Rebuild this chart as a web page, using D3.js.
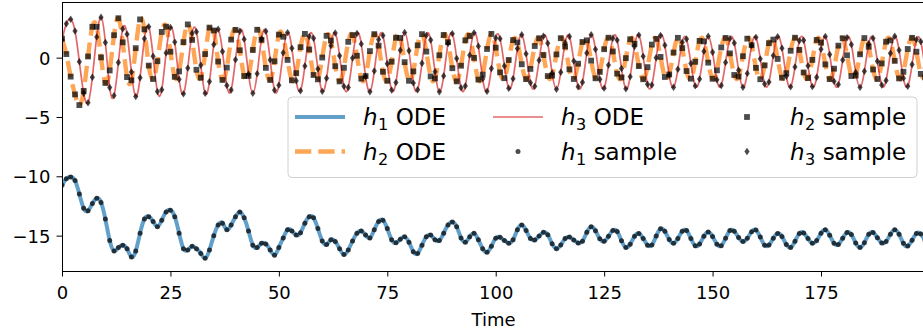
<!DOCTYPE html>
<html>
<head>
<meta charset="utf-8">
<script src="https://cdn.jsdelivr.net/npm/d3@7"></script>
<style>
  body { margin: 0; background: #fff; }
  svg { display: block; }
  text { font-family: "DejaVu Sans", sans-serif; }
</style>
</head>
<body>
<svg id="chart" width="923" height="336"></svg>
<script>
// Sample times (one sample per time unit)
const time = d3.range(200);

// h1: slow drifting state
const h1 = [
  -10.75, -10.2, -10.05, -10.35, -11.5, -12.7, -12.9, -12.3, -11.85, -12.2,
  -13.6, -15.4, -16.3, -16.0, -15.8, -16.1, -16.8, -16.3, -14.8, -13.6,
  -13.4, -13.8, -14.25, -13.7, -13.0, -12.85, -13.4, -14.8, -16.1, -16.2,
  -15.9, -16.1, -16.5, -16.9, -16.2, -15.0, -14.1, -13.95, -14.5, -14.1,
  -13.4, -13.0, -13.5, -14.6, -15.8, -16.0, -15.65, -15.7, -16.2, -16.65,
  -16.0, -15.2, -14.5, -14.6, -14.95, -14.75, -13.95, -13.4, -13.5, -14.4,
  -15.45, -15.75, -15.35, -15.5, -16.1, -16.6, -16.2, -15.45, -14.8, -14.6,
  -14.95, -15.2, -14.5, -13.8, -13.7, -14.4, -15.35, -15.6, -15.3, -15.1,
  -15.55, -16.35, -16.5, -15.8, -15.1, -14.95, -15.35, -15.4, -14.8, -14.1,
  -13.85, -14.25, -15.2, -15.55, -15.1, -14.8, -15.35, -16.1, -16.4,
  -15.89, -15.22, -15.14, -15.42, -15.64, -15.35, -14.50, -14.10, -14.56, -15.25,
  -15.36, -15.03, -14.72, -14.92, -15.68, -16.10, -15.79, -15.25, -15.12, -15.37,
  -15.62, -15.47, -14.72, -14.25, -14.59, -15.27, -15.48, -15.06, -14.57, -14.65,
  -15.43, -15.99, -15.72, -15.06, -14.81, -15.24, -15.80, -15.79, -15.04, -14.42,
  -14.64, -15.33, -15.64, -15.24, -14.63, -14.57, -15.24, -15.86, -15.71, -15.05,
  -14.70, -15.07, -15.72, -15.85, -15.22, -14.56, -14.63, -15.16, -15.50, -15.23,
  -14.68, -14.53, -15.12, -15.81, -15.79, -15.22, -14.81, -15.08, -15.74, -15.99,
  -15.48, -14.82, -14.77, -15.25, -15.64, -15.42, -14.79, -14.50, -14.96, -15.65,
  -15.74, -15.21, -14.73, -14.91, -15.62, -16.00, -15.59, -14.89, -14.73, -15.17,
  -15.61, -15.50, -14.88, -14.50, -14.88, -15.65, -15.87, -15.39, -14.82, -14.86, -15.41
];

// h2: fast oscillator, leads h3
const h2 = [
  1.6, 0.3, -1.6, -3.1, -4.0, -2.8, 0.1, 2.6, 2.6,
  0.02, -2.13, -1.08, 1.89,
  3.32, 1.29, -1.64, -1.91, 0.80, 3.22, 2.39, -0.67,
  -1.80, -0.30, 2.17, 2.61, 0.50, -1.62, -1.16, 1.31, 2.80, 1.49, -1.02, -1.69, 0.30, 2.53, 2.29,
  -0.33, -1.88, -0.84, 1.52, 2.34, 0.62, -1.55, -1.54, 0.65, 2.35, 1.50, -0.86, -1.88, -0.31, 1.94,
  1.76, -0.19, -1.91, -1.31, 0.88, 2.00, 0.69, -1.46, -1.83, 0.01,
  1.84, 1.44, -0.72, -2.00, -0.85, 1.33, 1.90, 0.16, -1.77, -1.55,
  0.55, 1.98, 1.01, -1.19, -1.95, -0.34, 1.68, 1.66, -0.38, -1.95,
  -1.16, 1.04, 1.98, 0.51, -1.58, -1.75, 0.20, 1.91, 1.30, -0.89,
  -2.00, -0.68, 1.46, 1.83, -0.02, -1.85, -1.43, 0.73, 2.00, 0.84,
  -1.24, -1.73, -0.20, 1.48, 1.28, -0.56, -1.81, -0.95, 0.98, 1.63,
  0.22, -1.55, -1.52, 0.27, 1.64, 0.94, -0.99, -1.80, -0.51, 1.32,
  1.46, -0.25, -1.74, -1.20, 0.71, 1.68, 0.52, -1.35, -1.67, -0.04,
  1.55, 1.17, -0.71, -1.82, -0.80, 1.10, 1.58, 0.06, -1.63, -1.42,
  0.43, 1.67, 0.80, -1.13, -1.77, -0.35, 1.41, 1.37, -0.42, -1.78,
  -1.07, 0.86, 1.66, 0.36, -1.46, -1.59, 0.12, 1.60, 1.05, -0.86,
  -1.82, -0.65, 1.22, 1.52, -0.11, -1.69, -1.31, 0.58, 1.68, 0.65,
  -1.25, -1.72, -0.19, 1.49, 1.27, -0.57, -1.81, -0.93, 1.01, 1.63,
  0.20, -1.55, -1.51, 0.28, 1.65, 0.92, -1.00, -1.80, -0.49, 1.34,
  1.45, -0.27, -1.75, -1.19, 0.73, 1.67, 0.50, -1.37, -1.66
];

// h3: fast oscillator
const h3 = [
  1.5, 2.85, 3.24, 2.25, -0.35, -3.0, -3.8, -1.65, 1.75,
  3.40, 1.28, -2.52, -3.20,
  -0.41, 2.42, 1.98, -1.21, -3.27, -1.70, 1.60, 2.61, 0.12, -2.86, -2.70, 0.40,
  2.55, 1.31, -1.83, -3.05, -0.88, 2.06, 2.19, -0.64, -3.00, -2.02, 1.11,
  2.39, 0.52, -2.34, -2.73, -0.17, 2.23, 1.56, -1.37, -3.00, -1.35, 1.58, 2.22, -0.19, -2.74, -2.32,
  0.41, 2.11, 0.79, -1.95, -2.79, -0.70, 1.78, 1.63, -0.95, -2.84,
  -1.74, 1.01, 2.08, 0.16, -2.42, -2.52, -0.03, 2.04, 1.16, -1.58,
  -2.87, -1.13, 1.52, 1.86, -0.52, -2.73, -2.09, 0.63, 2.12, 0.58,
  -2.13, -2.71, -0.47, 1.88, 1.49, -1.18, -2.87, -1.54, 1.20, 2.02,
  -0.07, -2.54, -2.39, 0.21, 2.09, 0.97, -1.78, -2.84, -0.91, 1.66,
  1.60, -0.70, -2.58, -1.77, 0.76, 1.93, 0.32, -2.11, -2.42, -0.22,
  1.80, 1.21, -1.29, -2.66, -1.23, 1.25, 1.78, -0.29, -2.45, -2.07,
  0.39, 1.93, 0.70, -1.82, -2.57, -0.63, 1.63, 1.48, -0.91, -2.63,
  -1.60, 0.94, 1.90, 0.11, -2.24, -2.31, -0.01, 1.87, 1.04, -1.49,
  -2.49, -0.98, 1.29, 1.57, -0.49, -2.38, -1.81, 0.53, 1.80, 0.46,
  -1.87, -2.35, -0.40, 1.60, 1.24, -1.06, -2.50, -1.33, 1.03, 1.71,
  -0.10, -2.22, -2.06, 0.17, 1.77, 0.80, -1.57, -2.46, -0.78, 1.42,
  1.47, -0.69, -2.44, -1.65, 0.71, 1.79, 0.27, -2.00, -2.27, -0.20,
  1.68, 1.10, -1.24, -2.50, -1.15, 1.17, 1.64, -0.31, -2.31, -1.93,
  0.37, 1.80, 0.62, -1.73, -2.41, -0.58, 1.52, 1.35, -0.88
];

const xTicks = [0, 25, 50, 75, 100, 125, 150, 175];
const yTicks = [-15, -10, -5, 0];
const xTitle = "Time";
const legendLabels = ["h_1 ODE", "h_2 ODE", "h_3 ODE", "h_1 sample", "h_2 sample", "h_3 sample"];

// ---- layout ----
const svg = d3.select("#chart");
const plot = { left: 62, right: 925.1, top: 2.7, bottom: 271 };

const x = d3.scaleLinear().domain([0, 199]).range([plot.left, plot.right]);
const y = d3.scaleLinear().domain([-17.98, 4.63]).range([plot.bottom, plot.top]);

svg.append("defs").append("clipPath").attr("id", "plot-clip")
  .append("rect")
  .attr("x", plot.left).attr("y", plot.top)
  .attr("width", plot.right - plot.left).attr("height", plot.bottom - plot.top);

const data = svg.append("g").attr("clip-path", "url(#plot-clip)");

const line = d3.line()
  .x((d, i) => x(time[i]))
  .y(d => y(d))
  .curve(d3.curveNatural);

const styles = {
  h1: { stroke: "#1f77b4", opacity: 0.7, width: 4, dash: null },
  h2: { stroke: "#ff7f0e", opacity: 0.7, width: 4.4, dash: "16.3 7" },
  h3: { stroke: "#d62728", opacity: 0.7, width: 1.7, dash: null }
};

function drawLine(values, st) {
  data.append("path")
    .attr("d", line(values))
    .attr("fill", "none")
    .attr("stroke", st.stroke)
    .attr("stroke-opacity", st.opacity)
    .attr("stroke-width", st.width)
    .attr("stroke-dasharray", st.dash)
    .attr("stroke-linejoin", "round");
}
drawLine(h1, styles.h1);
drawLine(h2, styles.h2);
drawLine(h3, styles.h3);

// sample markers
const markerFill = "#000";
const markerOpacity = 0.7;
const dotR = 2.5, sq = 5.8, dW = 2.6, dH = 3.7;

function dotMarker(g, cx, cy) {
  g.append("circle").attr("cx", cx).attr("cy", cy).attr("r", dotR)
    .attr("fill", markerFill).attr("fill-opacity", markerOpacity);
}
function squareMarker(g, cx, cy) {
  g.append("rect").attr("x", cx - sq / 2).attr("y", cy - sq / 2)
    .attr("width", sq).attr("height", sq)
    .attr("fill", markerFill).attr("fill-opacity", markerOpacity);
}
function diamondMarker(g, cx, cy) {
  g.append("path")
    .attr("d", `M${cx},${cy - dH}L${cx + dW},${cy}L${cx},${cy + dH}L${cx - dW},${cy}Z`)
    .attr("fill", markerFill).attr("fill-opacity", markerOpacity);
}

const m1 = data.append("g"), m2 = data.append("g"), m3 = data.append("g");
h1.forEach((v, i) => dotMarker(m1, x(time[i]), y(v)));
h2.forEach((v, i) => squareMarker(m2, x(time[i]), y(v)));
h3.forEach((v, i) => diamondMarker(m3, x(time[i]), y(v)));

// ---- axes ----
const fmt = d => String(d).replace("-", "\u2212");
const tickLen = 5.5;

const xAxis = svg.append("g")
  .attr("transform", `translate(0,${plot.bottom})`)
  .call(d3.axisBottom(x).tickValues(xTicks).tickSize(tickLen).tickPadding(9.7).tickFormat(fmt));
const yAxis = svg.append("g")
  .attr("transform", `translate(${plot.left},0)`)
  .call(d3.axisLeft(y).tickValues(yTicks).tickSize(tickLen).tickPadding(6).tickFormat(fmt));

[xAxis, yAxis].forEach(a => {
  a.select(".domain").remove();
  a.selectAll(".tick line").attr("stroke", "#000").attr("stroke-width", 1);
  a.selectAll(".tick text").attr("fill", "#000").attr("font-size", "18px")
    .attr("font-family", "DejaVu Sans");
});
yAxis.selectAll(".tick text").attr("dy", "0.36em");

// spines
svg.append("rect")
  .attr("x", plot.left + 0.5).attr("y", plot.top)
  .attr("width", plot.right - plot.left).attr("height", plot.bottom - plot.top)
  .attr("fill", "none").attr("stroke", "#000").attr("stroke-width", 1)
  .attr("shape-rendering", "crispEdges");

svg.append("text")
  .attr("x", (plot.left + plot.right) / 2).attr("y", 326)
  .attr("text-anchor", "middle").attr("font-size", "18px").attr("fill", "#000")
  .text(xTitle);

// ---- legend ----
const lg = svg.append("g");
lg.append("rect")
  .attr("x", 288).attr("y", 97).attr("width", 629).attr("height", 80.5)
  .attr("rx", 4).attr("ry", 4)
  .attr("fill", "#fff").attr("fill-opacity", 0.8)
  .attr("stroke", "#d0d0d0").attr("stroke-width", 1);

const colHandle = [295, 493, 722];
const handleLen = 50;
const textGap = 18;
const rowY = [117, 151.5];
const legendFont = 23;

function drawLabel(label, tx, ty) {
  const m = label.match(/^(\w)_(\d)\s(.*)$/);
  const t = lg.append("text").attr("x", tx).attr("y", ty + 0.35 * legendFont)
    .attr("font-size", legendFont + "px").attr("fill", "#000");
  t.append("tspan").attr("font-style", "italic").text(m[1]);
  t.append("tspan").attr("font-size", (legendFont * 0.7) + "px").attr("dy", 5).attr("dx", 0.5).text(m[2]);
  t.append("tspan").attr("dy", -5).text("\u00a0" + m[3]);
}

const legendKinds = [
  { kind: "line", st: styles.h1 },
  { kind: "line", st: styles.h2 },
  { kind: "line", st: styles.h3 },
  { kind: "dot" },
  { kind: "square" },
  { kind: "diamond" }
];

legendLabels.forEach((label, i) => {
  const col = Math.floor(i / 2), row = i % 2;
  const hx = colHandle[col], hy = rowY[row];
  const k = legendKinds[i];
  if (k.kind === "line") {
    lg.append("line")
      .attr("x1", hx).attr("x2", hx + handleLen).attr("y1", hy).attr("y2", hy)
      .attr("stroke", k.st.stroke).attr("stroke-opacity", k.st.opacity)
      .attr("stroke-width", k.st.width).attr("stroke-dasharray", k.st.dash);
  } else if (k.kind === "dot") {
    dotMarker(lg, hx + handleLen / 2, hy);
  } else if (k.kind === "square") {
    squareMarker(lg, hx + handleLen / 2, hy);
  } else {
    diamondMarker(lg, hx + handleLen / 2, hy);
  }
  drawLabel(label, hx + handleLen + textGap, hy);
});
</script>
</body>
</html>
